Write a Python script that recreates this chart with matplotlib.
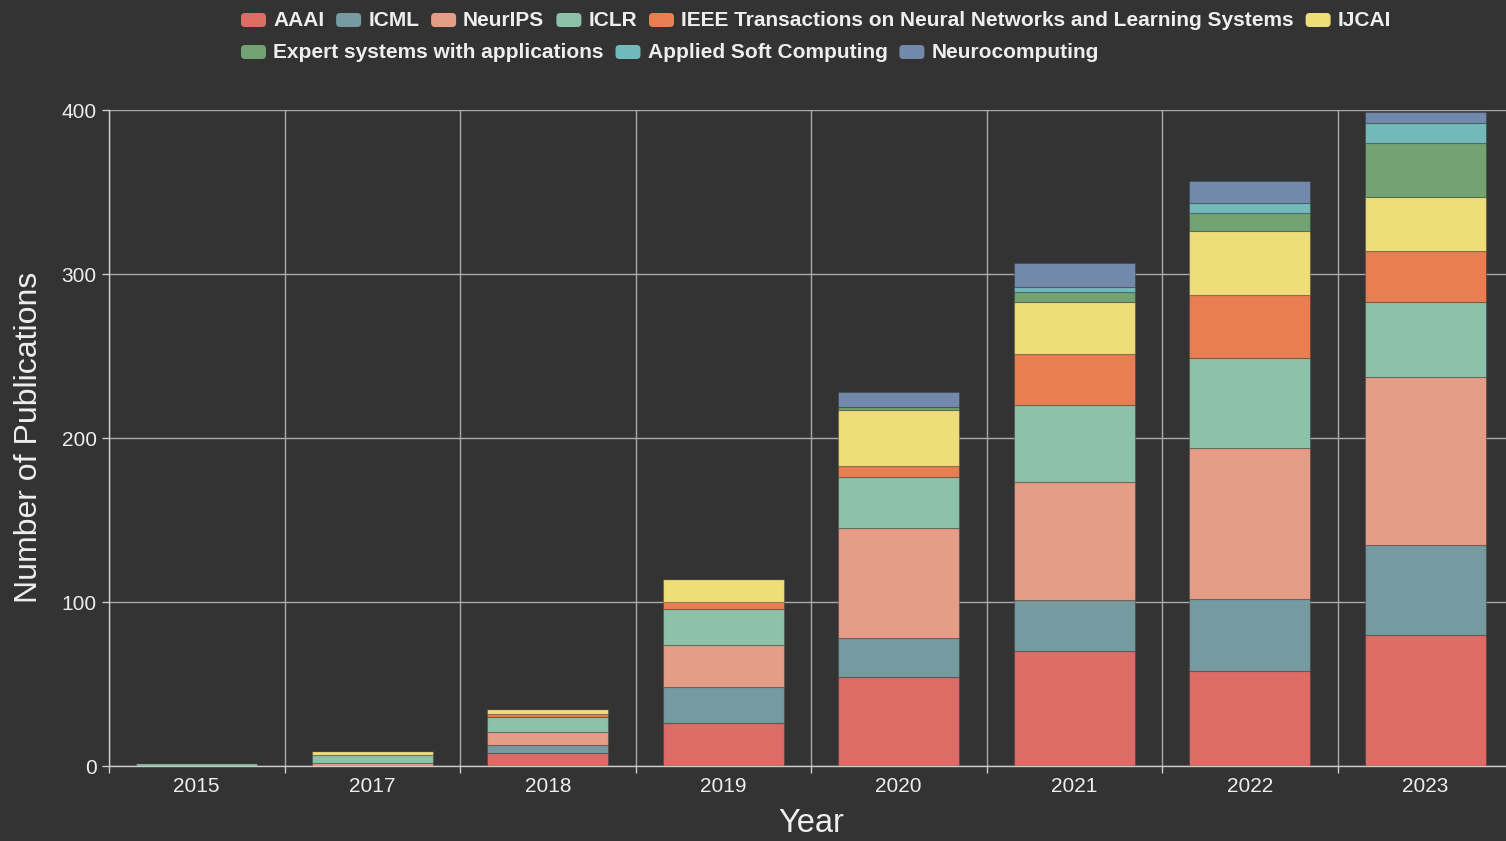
import matplotlib
matplotlib.use("Agg")
import matplotlib.pyplot as plt
from matplotlib.patches import FancyBboxPatch
from matplotlib.transforms import IdentityTransform
import numpy as np

plt.rcParams["font.family"] = ["Liberation Sans", "DejaVu Sans"]

# veriler
years = ["2015", "2017", "2018", "2019", "2020", "2021", "2022", "2023"]
venues = ["AAAI", "ICML", "NeurIPS", "ICLR",
          "IEEE Transactions on Neural Networks and Learning Systems", "IJCAI",
          "Expert systems with applications", "Applied Soft Computing", "Neurocomputing"]
aaai = [0, 0, 8, 26, 54, 70, 58, 80]
icml = [0, 0, 5, 22, 24, 31, 44, 55]
neurips = [0, 2, 8, 26, 67, 72, 92, 102]
iclr = [2, 5, 9, 22, 31, 47, 55, 46]
ieee_tnnls = [0, 0, 2, 4, 7, 31, 38, 31]
ijcai = [0, 2, 3, 14, 34, 32, 39, 33]
eswa = [0, 0, 0, 0, 2, 6, 11, 33]
asoc = [0, 0, 0, 0, 0, 3, 6, 12]
neurocomputing = [0, 0, 0, 0, 9, 15, 14, 7]
series = [aaai, icml, neurips, iclr, ieee_tnnls, ijcai, eswa, asoc, neurocomputing]
colors = ["#dd6b66", "#759aa0", "#e69d87", "#8dc1a9", "#ea7e53",
          "#eedd78", "#73a373", "#73b9bc", "#7289ab"]

bg = "#333333"
W, H = 1506, 841
fig = plt.figure(figsize=(W / 100, H / 100), dpi=100, facecolor=bg)
# eksen: x 109..1513 px, y 110..766 px
ax = fig.add_axes([109 / W, (H - 766) / H, 1404 / W, 656 / H])
ax.set_facecolor(bg)

x = np.arange(len(years))
alt = np.zeros(len(years))
for vals, c in zip(series, colors):
    v = np.array(vals, dtype=float)
    ax.bar(x, v, bottom=alt, width=0.69, color=c,
           edgecolor=(0.2, 0.2, 0.2, 0.35), linewidth=0.8, zorder=3)
    alt += v

ax.set_xlim(-0.5, len(years) - 0.5)
ax.set_ylim(0, 400)
ax.set_yticks([0, 100, 200, 300, 400])
ax.set_xticks(x)
ax.set_xticklabels(years)
ax.set_xticks(np.arange(len(years) + 1) - 0.5, minor=True)

ax.grid(axis="y", color="#aaaaaa", linewidth=1, zorder=0)
ax.grid(axis="x", which="minor", color="#aaaaaa", linewidth=1, zorder=0)
ax.tick_params(axis="x", which="major", length=0, pad=8, labelsize=15, labelcolor="#eeeeee")
ax.tick_params(axis="x", which="minor", length=5, color="#cccccc", width=1)
ax.tick_params(axis="y", length=5, color="#cccccc", width=1, pad=4,
               labelsize=15, labelcolor="#eeeeee")

for s in ["top", "right"]:
    ax.spines[s].set_visible(False)
for s in ["left", "bottom"]:
    ax.spines[s].set_color("#cccccc")
    ax.spines[s].set_linewidth(1)

fig.text(811 / W, 1 - 823 / H, "Year", ha="center", va="center",
         fontsize=23.5, color="#eeeeee")
fig.text(29 / W, 1 - 437 / H, "Number of Publications", ha="center", va="center",
         rotation=90, fontsize=23, color="#eeeeee")

# lejant (elle yerleştirilmiş, iki satır)
renderer = fig.canvas.get_renderer()
rows = [venues[:6], venues[6:]]
row_y = [20, 52]
idx = 0
for row, yy in zip(rows, row_y):
    px = 241
    for name in row:
        c = colors[idx]
        idx += 1
        fig.patches.append(FancyBboxPatch(
            (px, H - yy - 7), 25, 14,
            boxstyle="round,pad=0,rounding_size=4",
            transform=IdentityTransform(), facecolor=c, edgecolor="none"))
        t = fig.text((px + 32) / W, 1 - yy / H, name, ha="left", va="center",
                     fontsize=15.0, fontweight="bold", color="#eeeeee")
        bb = t.get_window_extent(renderer)
        px = bb.x1 + 12

fig.savefig("out.png", dpi=100, facecolor=bg)
